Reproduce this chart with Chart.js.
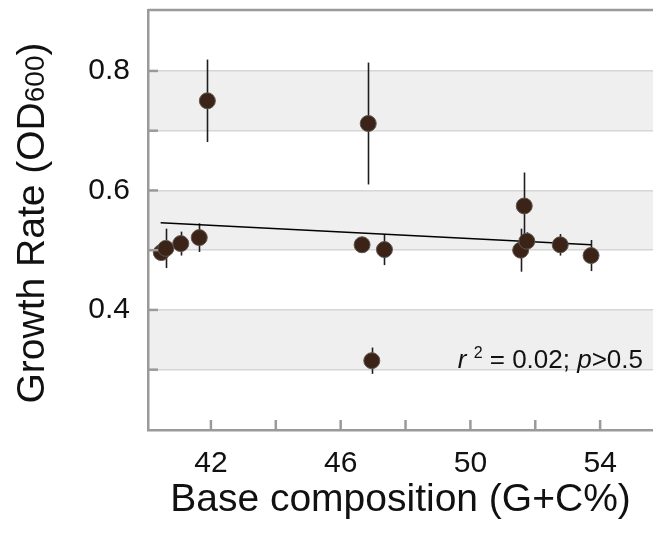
<!DOCTYPE html>
<html>
<head>
<meta charset="utf-8">
<script src="https://cdn.jsdelivr.net/npm/chart.js@4.4.0/dist/chart.umd.min.js"></script>
<style>
html, body { margin: 0; padding: 0; background: #fff; }
#wrap { width: 653px; height: 538px; position: relative; }
</style>
</head>
<body>
<div id="wrap"><canvas id="gcChart"></canvas></div>
<script>
// data
var gcContent  = [40.47, 40.61, 41.07, 41.64, 41.89, 46.66, 46.85, 46.96, 47.35, 51.55, 51.66, 51.74, 52.77, 53.72];
var growthRate = [0.496, 0.503, 0.511, 0.521, 0.750, 0.509, 0.712, 0.315, 0.501, 0.500, 0.574, 0.515, 0.509, 0.491];
var growthErr  = [0.010, 0.033, 0.020, 0.024, 0.069, 0.012, 0.102, 0.022, 0.026, 0.036, 0.056, 0.015, 0.018, 0.026];
var fitX = [40.45, 53.72];
var fitY = [0.546, 0.509];
var xTickValues = [42, 44, 46, 48, 50, 52, 54];
var xTickLabels = [42, 46, 50, 54];
var yTickValues = [0.3, 0.4, 0.5, 0.6, 0.7, 0.8];
var yTickLabels = [0.4, 0.6, 0.8];
var shadedBands = [[0.3, 0.4], [0.5, 0.6], [0.7, 0.8]];

var fontName = "'Liberation Sans', Arial, sans-serif";
var axisGray = '#9a9a9a';

var points = gcContent.map(function (x, i) { return { x: x, y: growthRate[i] }; });
var fitLine = fitX.map(function (x, i) { return { x: x, y: fitY[i] }; });

function noPad(s) {
    s.paddingLeft = 0; s.paddingRight = 0; s.paddingTop = 0; s.paddingBottom = 0;
}

var decor = {
    id: 'decor',
    beforeDraw: function (chart) {
        var ctx = chart.ctx, area = chart.chartArea, ys = chart.scales.y;
        ctx.save();
        ctx.fillStyle = '#efefef';
        shadedBands.forEach(function (b) {
            var top = ys.getPixelForValue(b[1]);
            var bot = ys.getPixelForValue(b[0]);
            ctx.fillRect(area.left, top, area.right - area.left, bot - top);
        });
        ctx.restore();
    },
    beforeDatasetsDraw: function (chart) {
        var ctx = chart.ctx, xs = chart.scales.x, ys = chart.scales.y;
        ctx.save();
        ctx.strokeStyle = '#1e1e1e';
        ctx.lineWidth = 1.6;
        gcContent.forEach(function (x, i) {
            var px = Math.round(xs.getPixelForValue(x)) + 0.5;
            ctx.beginPath();
            ctx.moveTo(px, ys.getPixelForValue(growthRate[i] + growthErr[i]));
            ctx.lineTo(px, ys.getPixelForValue(growthRate[i] - growthErr[i]));
            ctx.stroke();
        });
        ctx.restore();
    },
    afterDraw: function (chart) {
        var ctx = chart.ctx, area = chart.chartArea, xs = chart.scales.x, ys = chart.scales.y;
        ctx.save();
        // top frame line
        ctx.strokeStyle = axisGray;
        ctx.lineWidth = 2.5;
        ctx.beginPath();
        ctx.moveTo(area.left, area.top);
        ctx.lineTo(area.right, area.top);
        ctx.stroke();
        // inward tick marks
        yTickValues.forEach(function (v) {
            var py = ys.getPixelForValue(v);
            ctx.beginPath();
            ctx.moveTo(area.left, py);
            ctx.lineTo(area.left + 10, py);
            ctx.stroke();
        });
        xTickValues.forEach(function (v) {
            var px = xs.getPixelForValue(v);
            ctx.beginPath();
            ctx.moveTo(px, area.bottom);
            ctx.lineTo(px, area.bottom - 10);
            ctx.stroke();
        });

        // y axis title with subscript
        ctx.fillStyle = '#111';
        var big = '39px ' + fontName, small = '28px ' + fontName;
        var parts = [['Growth Rate (OD', big], ['600', small], [')', big]];
        var total = 0;
        parts.forEach(function (p) { ctx.font = p[1]; p.push(ctx.measureText(p[0]).width); total += p[2]; });
        ctx.translate(44, 223);
        ctx.rotate(-Math.PI / 2);
        ctx.textBaseline = 'alphabetic';
        ctx.textAlign = 'left';
        var cx = -total / 2;
        parts.forEach(function (p) { ctx.font = p[1]; ctx.fillText(p[0], cx, 0); cx += p[2]; });
        ctx.setTransform(1, 0, 0, 1, 0, 0);

        // regression stats
        var reg = '26px ' + fontName, ita = 'italic 26px ' + fontName, sup = '16px ' + fontName;
        var stat = [['r', ita, 0], [' ', reg, 0], ['2', sup, -10], [' = 0.02; ', reg, 0], ['p', ita, 0], ['>0.5', reg, 0]];
        var w = 0;
        stat.forEach(function (s) { ctx.font = s[1]; s.push(ctx.measureText(s[0]).width); w += s[3]; });
        var sx = 643 - w;
        stat.forEach(function (s) { ctx.font = s[1]; ctx.fillText(s[0], sx, 368 + s[2]); sx += s[3]; });
        ctx.restore();
    }
};

new Chart(document.getElementById('gcChart'), {
    type: 'scatter',
    data: {
        datasets: [{
            data: points,
            backgroundColor: '#3b2417',
            borderColor: '#5e5650',
            borderWidth: 1,
            pointRadius: 8,
            order: 0
        }, {
            type: 'line',
            data: fitLine,
            borderColor: '#000',
            borderWidth: 1.6,
            pointRadius: 0,
            fill: false,
            order: 1
        }]
    },
    options: {
        responsive: true,
        maintainAspectRatio: false,
        animation: false,
        layout: { autoPadding: false, padding: { top: 10, right: 0, left: 0, bottom: 0 } },
        plugins: { legend: { display: false }, tooltip: { enabled: false } },
        scales: {
            x: {
                type: 'linear',
                min: 40.06,
                max: 55.63,
                afterBuildTicks: function (s) { s.ticks = xTickValues.map(function (v) { return { value: v }; }); },
                afterFit: function (s) { s.height = 108; noPad(s); },
                grid: { display: false, drawTicks: false },
                border: { display: true, color: axisGray, width: 2.5 },
                ticks: {
                    padding: 16, color: '#111', maxRotation: 0, autoSkip: false,
                    font: { family: fontName, size: 30 },
                    callback: function (v) { return xTickLabels.indexOf(v) >= 0 ? String(v) : ''; }
                },
                title: {
                    display: true, text: 'Base composition (G+C%)', color: '#111',
                    font: { family: fontName, size: 39 },
                    padding: { top: 0, bottom: 14 }
                }
            },
            y: {
                min: 0.199,
                max: 0.902,
                afterBuildTicks: function (s) { s.ticks = yTickValues.map(function (v) { return { value: v }; }); },
                afterFit: function (s) { s.width = 148; noPad(s); },
                grid: { color: '#d6d6d6', lineWidth: 1.5, drawTicks: false },
                border: { display: true, color: axisGray, width: 2.5 },
                ticks: {
                    padding: 18, color: '#111',
                    font: { family: fontName, size: 30 },
                    callback: function (v) {
                        var r = Math.round(v * 10) / 10;
                        return yTickLabels.indexOf(r) >= 0 ? r.toFixed(1) : '';
                    }
                }
            }
        }
    },
    plugins: [decor]
});
</script>
</body>
</html>
